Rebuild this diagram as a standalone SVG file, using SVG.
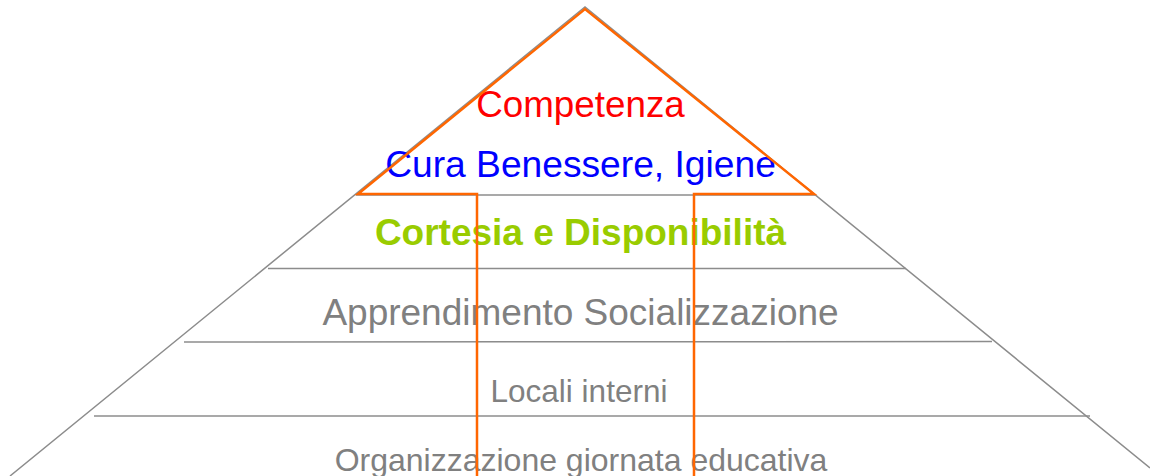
<svg xmlns="http://www.w3.org/2000/svg" width="1150" height="476" viewBox="0 0 1150 476">
<style>
.g{stroke:#8c8c8c;stroke-width:1.5;fill:none}
.o{stroke:#FF6600;stroke-width:2.5;fill:none;stroke-linejoin:miter}
text{font-family:"Liberation Sans",Arial,sans-serif;text-anchor:middle}
.gt{fill:#808080}
</style>
<rect width="1150" height="476" fill="#ffffff"/>
<g id="pyramid">
<path class="g" d="M10,476 L585,7 L1150,468"/>
<line class="g" x1="356" y1="195" x2="815" y2="195"/>
<line class="g" x1="268" y1="268.5" x2="906" y2="268.5"/>
<line class="g" x1="184" y1="342" x2="992" y2="341.5"/>
<line class="g" x1="94" y1="416" x2="1090" y2="416"/>
</g>
<g id="level1"><text x="580.5" y="117" font-size="36.8" fill="#FF0000">Competenza</text></g>
<g id="level2"><text x="580.5" y="177" font-size="37.2" fill="#0000FF">Cura Benessere, Igiene</text></g>
<g id="level3"><text x="580.5" y="245" font-size="37" font-weight="bold" fill="#99CC00">Cortesia e Disponibilità</text></g>
<g id="level4"><text class="gt" x="580.5" y="325" font-size="37">Apprendimento Socializzazione</text></g>
<g id="level5"><text class="gt" x="579" y="402" font-size="31.5">Locali interni</text></g>
<g id="level6"><text class="gt" x="581" y="471" font-size="32">Organizzazione giornata educativa</text></g>
<g id="connectors">
<path class="o" d="M477,476 L477,194 L358,194 L585,9 L814,194 L694,194 L694,476"/>
</g>
</svg>
